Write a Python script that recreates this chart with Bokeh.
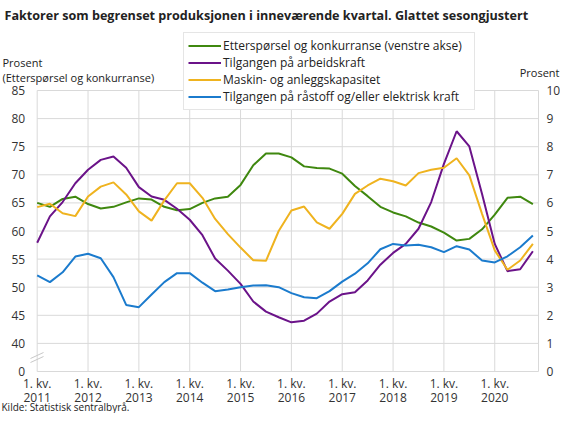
from bokeh.plotting import figure
from bokeh.models import Range1d, LinearAxis, FixedTicker, Label, Legend, LegendItem, Arrow
from bokeh.embed import file_html
from bokeh.resources import INLINE

# quarterly series, 1. kv. 2011 - 4. kv. 2020
years = [2011, 2012, 2013, 2014, 2015, 2016, 2017, 2018, 2019, 2020]

# left axis (percent)
ettersporsel = [65.0, 64.3, 65.7, 66.1, 64.8, 64.0, 64.3, 65.1, 65.8, 65.6,
                64.3, 63.7, 63.9, 65.0, 65.8, 66.1, 68.2, 71.7, 73.8, 73.8,
                73.1, 71.5, 71.2, 71.1, 70.2, 68.0, 66.2, 64.3, 63.3, 62.6,
                61.5, 60.8, 59.7, 58.3, 58.6, 60.3, 62.9, 65.9, 66.1, 64.8]

# right axis (percent)
arbeidskraft = [4.58, 5.52, 6.03, 6.70, 7.18, 7.53, 7.65, 7.25, 6.56, 6.23,
                6.11, 5.79, 5.40, 4.85, 4.02, 3.59, 3.12, 2.49, 2.13, 1.93,
                1.75, 1.81, 2.06, 2.49, 2.75, 2.82, 3.24, 3.80, 4.22, 4.54,
                5.08, 6.03, 7.39, 8.55, 8.01, 6.32, 4.54, 3.57, 3.64, 4.28]

kapasitet = [5.85, 5.97, 5.63, 5.53, 6.23, 6.58, 6.73, 6.30, 5.70, 5.37,
             6.09, 6.70, 6.70, 6.18, 5.43, 4.89, 4.41, 3.96, 3.94, 5.00,
             5.73, 5.87, 5.31, 5.08, 5.61, 6.32, 6.62, 6.86, 6.77, 6.62,
             7.06, 7.18, 7.25, 7.59, 6.98, 5.61, 4.31, 3.62, 3.95, 4.54]

raastoff = [3.42, 3.18, 3.53, 4.09, 4.19, 4.03, 3.36, 2.37, 2.29, 2.74,
            3.18, 3.50, 3.50, 3.16, 2.86, 2.92, 3.00, 3.06, 3.07, 3.00,
            2.79, 2.64, 2.61, 2.86, 3.20, 3.48, 3.85, 4.35, 4.54, 4.48,
            4.51, 4.42, 4.25, 4.46, 4.34, 3.95, 3.88, 4.10, 4.42, 4.84]

left_ticks = [35, 40, 45, 50, 55, 60, 65, 70, 75, 80, 85]
right_ticks = [0, 1, 2, 3, 4, 5, 6, 7, 8, 9, 10]

names = ["Etterspørsel og konkurranse (venstre akse)",
         "Tilgangen på arbeidskraft",
         "Maskin- og anleggskapasitet",
         "Tilgangen på råstoff og/eller elektrisk kraft"]
colors = ["#3f880f", "#6b1389", "#efb31f", "#1b7bcd"]

FONT = "Open Sans"
GRID = "#d9d9d9"
x = list(range(len(ettersporsel)))

# geometry: the frame fills the whole canvas, axes sit at fixed locations
W, H = 560, 413
X0, PX = 36.7, 12.71       # pixel of 1. kv. 2011, pixels per quarter
Y0, PY = 371.0, 28.1 / 5   # pixel of the bottom line, pixels per left-axis unit
X_END = (538 - X0) / PX    # right edge of the plotting area


def at(px, py):
    # canvas pixel -> data coords (for texts around the plot area)
    return (px - X0) / PX, 35 + (Y0 - py) / PY


p = figure(width=W, height=H, title=None, output_backend="svg", toolbar_location=None,
           x_range=Range1d(-X0 / PX, (W - X0) / PX),
           y_range=Range1d(35 - (H - Y0) / PY, 35 + Y0 / PY),
           min_border=0)
p.extra_y_ranges = {"right": Range1d((35 - (H - Y0) / PY - 35) / 5, (Y0 / PY) / 5)}
p.outline_line_color = None
p.xgrid.visible = False
p.ygrid.visible = False

# axes
xt = [4 * k for k in range(len(years))]
p.xaxis.ticker = FixedTicker(ticks=xt)
p.xaxis.major_label_overrides = {t: f"1. kv.\n{y}" for t, y in zip(xt, years)}
p.xaxis.fixed_location = 35
p.yaxis.ticker = FixedTicker(ticks=left_ticks)
p.yaxis.major_label_overrides = {35: "0"}
p.yaxis.fixed_location = 0

ra = LinearAxis(y_range_name="right", ticker=FixedTicker(ticks=right_ticks), fixed_location=X_END)
p.add_layout(ra, "right")

for ax in [p.xaxis[0], p.yaxis[0], ra]:
    ax.axis_line_color = None
    ax.major_tick_line_color = None
    ax.minor_tick_line_color = None
    ax.major_tick_out = 0
    ax.major_tick_in = 0
    ax.major_label_text_font = FONT
    ax.major_label_text_font_size = "12px"
    ax.major_label_text_color = "#333333"
p.xaxis.major_label_standoff = 3
p.xaxis.major_label_text_line_height = 0.85
p.yaxis[0].major_label_standoff = 12
ra.major_label_standoff = 8

# grid lines, only over the plotting area
p.segment(x0=xt + [X_END], y0=35, x1=xt + [X_END], y1=85, line_color=GRID, line_width=1)
p.segment(x0=0, y0=left_ticks, x1=X_END, y1=left_ticks, line_color=GRID, line_width=1)

# lines
r1 = p.line(x, ettersporsel, line_color=colors[0], line_width=2)
r2 = p.line(x, arbeidskraft, line_color=colors[1], line_width=2, y_range_name="right")
r3 = p.line(x, kapasitet, line_color=colors[2], line_width=2, y_range_name="right")
r4 = p.line(x, raastoff, line_color=colors[3], line_width=2, y_range_name="right")

legend = Legend(items=[LegendItem(label=n, renderers=[r]) for n, r in zip(names, [r1, r2, r3, r4])],
                location=(183, 303), padding=4, spacing=0, margin=0,
                glyph_width=33, glyph_height=15, label_height=15, label_width=247,
                label_standoff=2, label_text_font=FONT, label_text_font_size="12px",
                label_text_color="#222222", border_line_color="#cccccc",
                background_fill_color="white", background_fill_alpha=1)
p.add_layout(legend, "center")

# axis break mark
for y0 in [362, 358]:
    xs, ys = at(30, y0)
    xe, ye = at(43, y0 - 6)
    p.add_layout(Arrow(end=None, x_start=xs, y_start=ys, x_end=xe, y_end=ye,
                       line_color="#c8c8c8", line_width=1))

# texts
texts = [
    ("Faktorer som begrenset produksjonen i inneværende kvartal. Glattet sesongjustert",
     4, 15, "left", "12.6px", "bold", "middle"),
    ("Prosent", 2, 62, "left", "11px", "normal", "middle"),
    ("(Etterspørsel og konkurranse)", 2, 77, "left", "11px", "normal", "middle"),
    ("Prosent", 559, 72, "right", "11px", "normal", "middle"),
    ("Kilde: Statistisk sentralbyrå.", 1, 413, "left", "10px", "normal", "bottom"),
]
for t, px, py, al, fs, fw, bl in texts:
    lx, ly = at(px, py)
    p.add_layout(Label(x=lx, y=ly, text=t, text_align=al, text_baseline=bl,
                       text_font=FONT, text_font_size=fs, text_font_style=fw,
                       text_color="#222222"))

open("out.html", "w").write(file_html(p, INLINE))
